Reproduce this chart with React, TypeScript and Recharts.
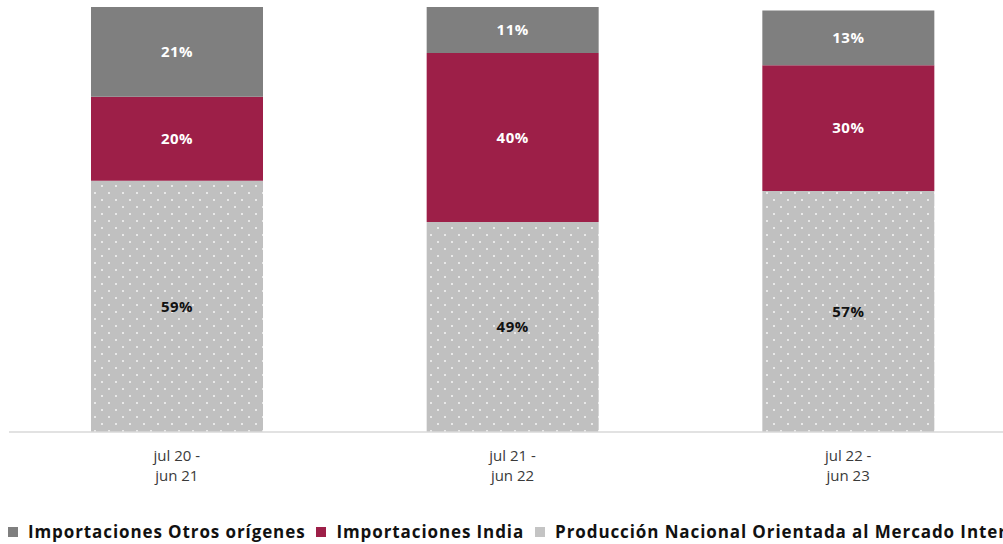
import React from "react";
import { BarChart, Bar, XAxis, YAxis, Legend, LabelList } from "recharts";

// ─── Data ─────────────────────────────────────────────────────────────────────

const periods = ["jul 20 - jun 21", "jul 21 - jun 22", "jul 22 - jun 23"];
const produccionNacional = [59.1, 49.4, 56.7];
const importacionesIndia = [19.8, 39.8, 29.6];
const importacionesOtros = [21.1, 10.8, 12.9];

const data = periods.map((p, i) => ({
    periodo: p,
    nacional: produccionNacional[i],
    india: importacionesIndia[i],
    otros: importacionesOtros[i],
}));

const series = [
    { key: "otros", name: "Importaciones Otros orígenes", color: "#7F7F7F" },
    { key: "india", name: "Importaciones India", color: "#9D1F48" },
    { key: "nacional", name: "Producción Nacional Orientada al Mercado Interno", color: "#C4C4C4" },
];

const FONT = "'Open Sans', 'Noto Sans', sans-serif";
const pct = (v: any) => `${Math.round(Number(v))}%`;
const labelStyle = { fontSize: 15, fontWeight: 700, fontFamily: FONT, letterSpacing: 0.5 };

// ─── Two-line category tick ───────────────────────────────────────────────────

function PeriodTick({ x, y, payload }: any) {
    const value: string = payload.value;
    const idx = value.indexOf(" - ");
    const l1 = value.slice(0, idx + 2);
    const l2 = value.slice(idx + 3);
    return (
        <text x={x} y={y} textAnchor="middle" fill="#3A3A3A" style={{ fontSize: 15, fontFamily: FONT }}>
            <tspan x={x} dy={21}>{l1}</tspan>
            <tspan x={x} dy={20}>{l2}</tspan>
        </text>
    );
}

// ─── Legend ───────────────────────────────────────────────────────────────────

function LegendContent() {
    return (
        <div style={{ display: "flex", alignItems: "center", whiteSpace: "nowrap", fontFamily: FONT, fontWeight: 700, fontSize: 17, letterSpacing: 0.9, color: "#111" }}>
            {series.map((s) => (
                <div key={s.key} style={{ display: "flex", alignItems: "center", marginRight: 11 }}>
                    <span style={{ width: 10, height: 10, background: s.color, marginRight: 10, display: "inline-block" }} />
                    <span>{s.name}</span>
                </div>
            ))}
        </div>
    );
}

export default function App() {
    return (
        <div style={{ position: "absolute", left: 0, top: 0, width: 1003, height: 544, overflow: "hidden", background: "#fff" }}>
            <BarChart width={1030} height={544} data={data} margin={{ top: 7, right: 14, left: 9, bottom: 52 }}>
                <defs>
                    <pattern id="dots" patternUnits="userSpaceOnUse" width={14} height={14}>
                        <rect width={14} height={14} fill="#C0C0C0" />
                        <rect x={3} y={3} width={2} height={2} fill="#E8E8E8" />
                        <rect x={10} y={10} width={2} height={2} fill="#E8E8E8" />
                    </pattern>
                </defs>
                <XAxis
                    dataKey="periodo"
                    height={60}
                    axisLine={{ stroke: "#D9D9D9", strokeWidth: 1.5 }}
                    tickLine={false}
                    tick={<PeriodTick />}
                    interval={0}
                />
                <YAxis hide domain={[0, 100]} />
                <Legend
                    layout="horizontal"
                    verticalAlign="middle"
                    align="center"
                    content={<LegendContent />}
                    wrapperStyle={{ top: 520, left: 8, width: 1100 }}
                />
                <Bar dataKey="nacional" name={series[2].name} stackId="a" fill="url(#dots)" barSize={172} isAnimationActive={false}>
                    <LabelList dataKey="nacional" position="center" formatter={pct} fill="#111" style={labelStyle} />
                </Bar>
                <Bar dataKey="india" name={series[1].name} stackId="a" fill="#9D1F48" barSize={172} isAnimationActive={false}>
                    <LabelList dataKey="india" position="center" formatter={pct} fill="#fff" style={labelStyle} />
                </Bar>
                <Bar dataKey="otros" name={series[0].name} stackId="a" fill="#7F7F7F" barSize={172} isAnimationActive={false}>
                    <LabelList dataKey="otros" position="center" formatter={pct} fill="#fff" style={labelStyle} />
                </Bar>
            </BarChart>
        </div>
    );
}
